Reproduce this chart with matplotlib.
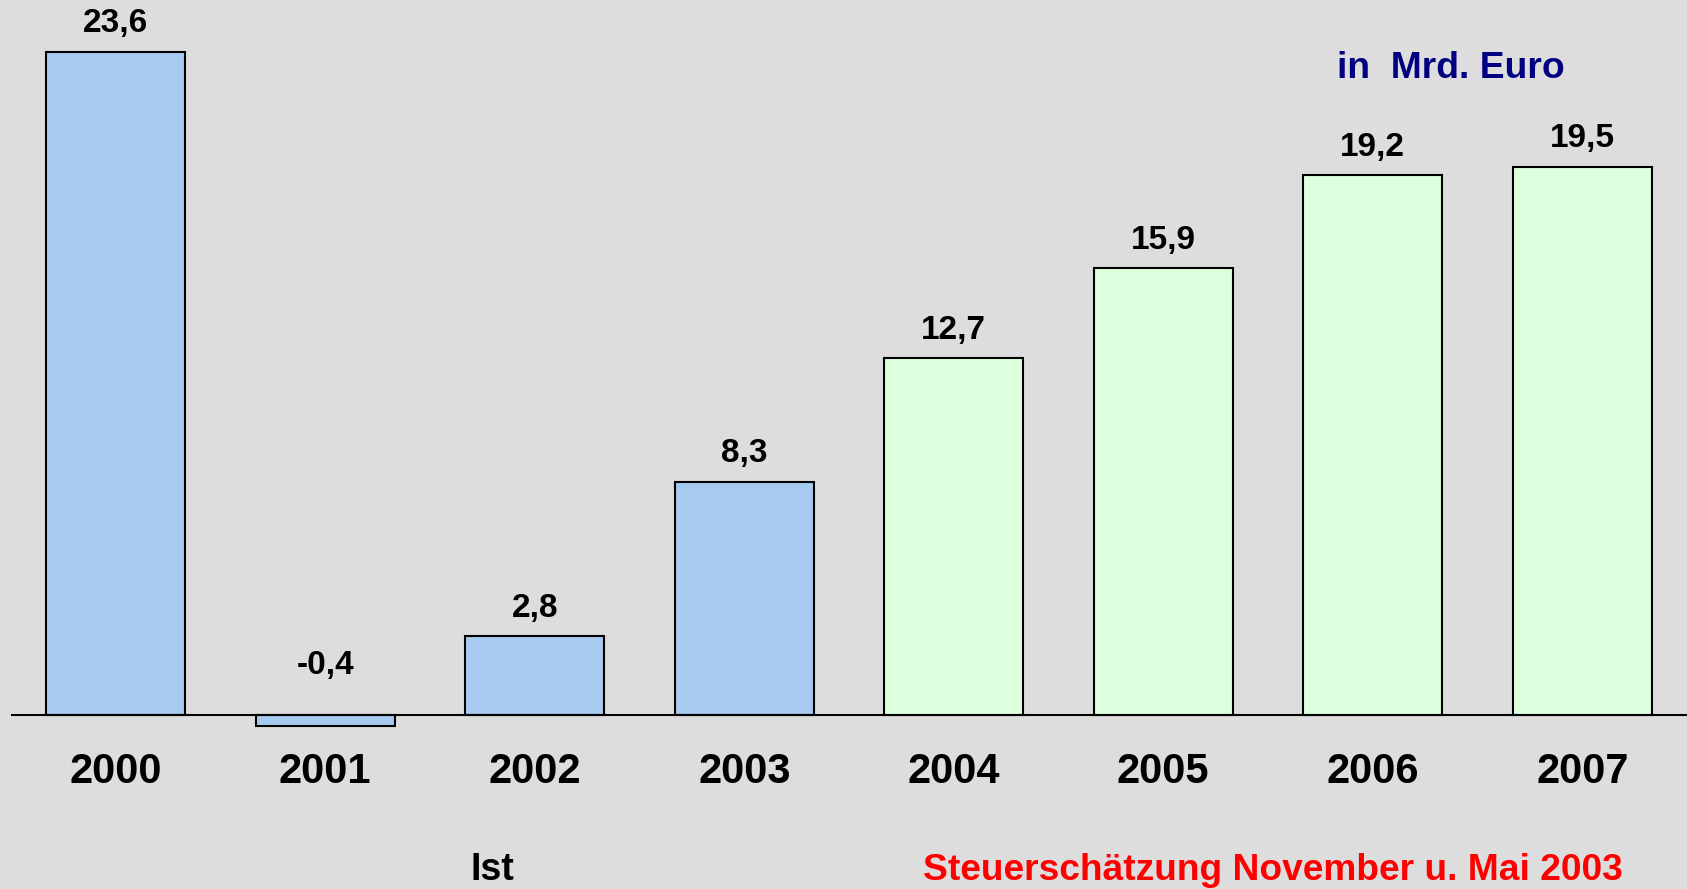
import matplotlib
matplotlib.use('Agg')
import matplotlib.pyplot as plt

# data
years = ['2000', '2001', '2002', '2003', '2004', '2005', '2006', '2007']
values = [23.6, -0.4, 2.8, 8.3, 12.7, 15.9, 19.2, 19.5]
is_forecast = [False, False, False, False, True, True, True, True]
value_labels = ['23,6', '-0,4', '2,8', '8,3', '12,7', '15,9', '19,2', '19,5']

BG = '#DDDDDD'
BLUE = '#A6CAF0'
GREEN = '#DDFFDD'

plt.rcParams['font.family'] = ['Liberation Sans', 'DejaVu Sans']

fig = plt.figure(figsize=(16.87, 8.89), dpi=100, facecolor=BG)
W, H = 1687, 889
ax = fig.add_axes([11 / W, 0, 1 - 11 / W, 1])
ax.set_facecolor(BG)

# pixel scale: baseline at 715 px from top, 28.1 px per unit
ppu = 28.1
base = 715
ax.set_ylim(-(H - base) / ppu, base / ppu)
ax.set_xlim(-0.5, 7.5)

x = list(range(len(years)))
colors = [GREEN if f else BLUE for f in is_forecast]
ax.bar(x, values, width=0.665, color=colors, edgecolor='black', linewidth=1.5, zorder=2)
ax.axhline(0, color='black', linewidth=1.5, zorder=3)

for xi, v, lab in zip(x, values, value_labels):
    # negative value label sits a bit higher above the baseline
    y = v + 1.0 if v >= 0 else 1.75
    ax.text(xi, y, lab, ha='center', va='center',
            fontsize=24, fontweight='bold', color='black')

for xi, yr in zip(x, years):
    ax.text(xi, -(772 - base) / ppu, yr, ha='center', va='center',
            fontsize=30, fontweight='bold', color='black')

for s in ax.spines.values():
    s.set_visible(False)
ax.set_xticks([])
ax.set_yticks([])

fig.text(492 / W, 1 - 870 / H, 'Ist', ha='center', va='center',
         fontsize=27, fontweight='bold', color='black')
fig.text(1273 / W, 1 - 870 / H, 'Steuerschätzung November u. Mai 2003',
         ha='center', va='center', fontsize=26.7, fontweight='bold', color='#FF0000')
fig.text(1451 / W, 1 - 68 / H, 'in  Mrd. Euro', ha='center', va='center',
         fontsize=26.8, fontweight='bold', color='#000080')

fig.savefig('out.png', dpi=100, facecolor=BG)
